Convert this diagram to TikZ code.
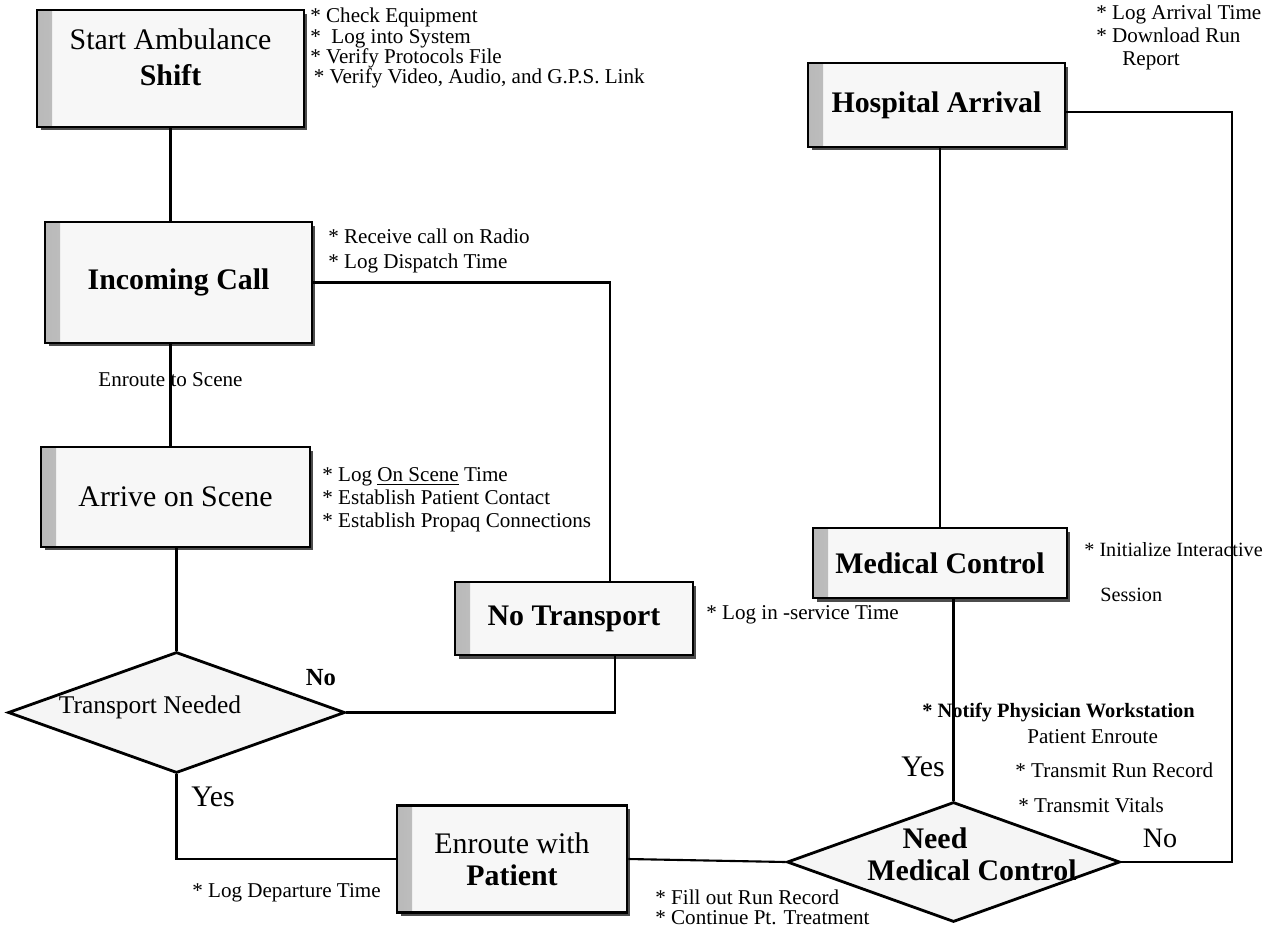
\documentclass[tikz,border=0pt]{standalone}
\usepackage{fontspec}
\setmainfont{Liberation Serif}
\usepackage{tikz}
\usetikzlibrary{shapes.geometric, positioning, shadows}

\tikzset{
  stage/.style={draw, line width=1.6pt, fill=gray!6, align=center, inner sep=0pt,
    font=\fontsize{17}{18}\selectfont,
    drop shadow={shadow xshift=0.07cm, shadow yshift=-0.07cm, fill=black!70, opacity=1},
    path picture={\fill[left color=gray!55, right color=gray!6]
      (path picture bounding box.south west) rectangle ([xshift=0.3cm]path picture bounding box.north west);}},
  query/.style={diamond, draw, line width=1.6pt, fill=gray!8, inner sep=0pt},
  note/.style={font=\fontsize{12}{13}\selectfont, align=left, anchor=north west, inner sep=0pt},
  big/.style={font=\fontsize{17}{18}\selectfont, inner sep=0pt},
  link/.style={line width=1.2pt},
}

\begin{document}
\begin{tikzpicture}[x=0.02cm, y=-0.02cm]
  \useasboundingbox (0,0) rectangle (1267,930);

  % steps
  \node[stage, minimum width=5.34cm, minimum height=2.34cm] (start) at (170.5,68.5) {Start Ambulance\\[2pt]\textbf{Shift}\\[-5pt]\mbox{}};
  \node[stage, minimum width=5.34cm, minimum height=2.42cm] (incoming) at (178.5,282.5) {\textbf{Incoming Call}};
  \node[stage, minimum width=5.38cm, minimum height=2cm] (arrive) at (175.5,497) {Arrive on Scene};
  \node[stage, minimum width=4.76cm, minimum height=1.46cm] (notrans) at (574,618.5) {\textbf{No Transport}};
  \node[stage, minimum width=4.6cm, minimum height=2.14cm] (enroute) at (512,859) {Enroute with\\\textbf{Patient}};
  \node[stage, minimum width=5.14cm, minimum height=1.68cm] (hospital) at (936.5,105) {\textbf{Hospital Arrival}};
  \node[stage, minimum width=5.08cm, minimum height=1.4cm] (medctrl) at (940,563) {\textbf{Medical Control}};

  % decisions
  \node[query, minimum width=6.74cm, minimum height=2.42cm] (tneed) at (176.5,712.5) {};
  \node[font=\fontsize{14.5}{16}\selectfont, inner sep=0pt] (tneedtxt) at (150,707) {Transport Needed};
  \node[query, minimum width=6.66cm, minimum height=2.4cm] (need) at (953.5,862) {};
  \node[big] (needtxt) at (935,838) {\textbf{Need}};
  \node[big] (needtxt2) at (972,870) {\textbf{Medical Control}};

  % connectors
  \draw[link] (start.south) -- (start.south |- incoming.north);
  \draw[link] (incoming.south -| start.south) -- (arrive.north -| start.south)
    node[pos=0.35, font=\fontsize{12}{13}\selectfont] (toscene) {Enroute to Scene};
  \draw[link] (arrive.south -| tneed.north) -- (tneed.north);
  \draw[link] (incoming.east) -| ([xshift=0.72cm]notrans.north);
  \draw[link] ([xshift=0.82cm]notrans.south) |- (tneed.east);
  \draw[link] (tneed.south) |- (enroute.west);
  \draw[link] (enroute.east) -- (need.west);
  \draw[link] (need.north) -- (need.north |- medctrl.south);
  \draw[link] (medctrl.north) -- (medctrl.north |- hospital.south);
  \draw[link] (need.east) -- ++(111,0) |- ([yshift=-0.14cm]hospital.east);

  % branch labels
  \node[font=\fontsize{14}{15}\bfseries] (tno) at (321,678) {No};
  \node[big] (tyes) at (213,797) {Yes};
  \node[big] (nyes) at (923,767) {Yes};
  \node[font=\fontsize{16}{17}\selectfont] (nno) at (1160,838) {No};

  % notes
  \node[note, font=\fontsize{12}{11.4}\selectfont] (startnote) at (310,8) {* Check Equipment\\*~~Log into System\\* Verify Protocols File\\\hspace*{2pt}* Verify Video, Audio, and G.P.S. Link};
  \node[note, font=\fontsize{12}{14}\selectfont] (callnote) at (328,229) {* Receive call on Radio\\* Log Dispatch Time};
  \node[note] (scenenote) at (322,467) {* Log \underline{On Scene} Time\\* Establish Patient Contact\\* Establish Propaq Connections};
  \node[note, anchor=west] (servnote) at (706,615) {* Log in -service Time};
  \node[note, font=\fontsize{11.5}{13}\selectfont] (initnote) at (1084,542) {* Initialize Interactive\\[0.45cm]\hspace*{0.32cm}Session};
  \node[note] (arrivalnote) at (1096,5) {* Log Arrival Time\\* Download Run\\\hspace*{0.52cm}Report};
  \node[note, anchor=west, font=\fontsize{11.6}{13}\bfseries] (notifynote) at (922,713) {* Notify Physician Workstation};
  \node[note, anchor=west] (enroutenote) at (1027,737) {Patient Enroute};
  \node[note, anchor=west] (recordnote) at (1015,770) {* Transmit Run Record};
  \node[note, anchor=west] (vitalsnote) at (1018,805) {* Transmit Vitals};
  \node[note, font=\fontsize{12}{11}\selectfont] (fillnote) at (655,890) {* Fill out Run Record\\* Continue Pt. Treatment};
  \node[note, anchor=west] (departnote) at (192,893) {* Log Departure Time};
\end{tikzpicture}
\end{document}
